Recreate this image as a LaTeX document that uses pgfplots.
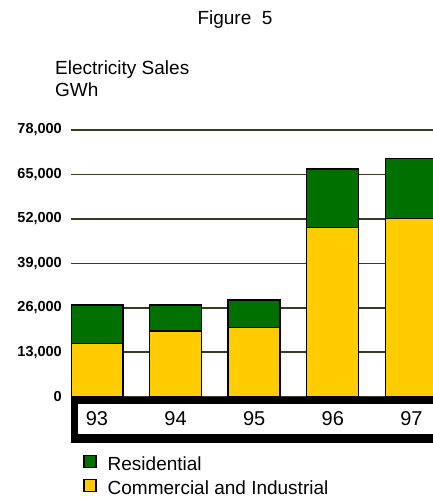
\documentclass[border=0pt]{standalone}
\usepackage{pgfplots}
\pgfplotsset{compat=1.18}
\usepackage{fontspec}
\setmainfont{Liberation Sans}

\definecolor{resgreen}{RGB}{0,112,0}
\definecolor{ciyellow}{RGB}{255,204,0}
\definecolor{gridtone}{RGB}{60,56,40}

\begin{document}
\begin{tikzpicture}[x=1bp,y=1bp]
\useasboundingbox (0,0) rectangle (433,498);
\clip (0,0) rectangle (433,498);

% titles
\node[anchor=base, font=\fontsize{19bp}{23bp}\selectfont] at (235,473) {Figure\ \ 5};
\node[anchor=base west, font=\fontsize{19bp}{23bp}\selectfont, inner sep=0pt] at (55,423) {Electricity Sales};
\node[anchor=base west, font=\fontsize{19bp}{23bp}\selectfont, inner sep=0pt] at (55,401) {GWh};

% base frame under the bars
\fill[black] (71,55) rectangle (450,101.3);
\fill[white] (78,64) rectangle (450,94);

\begin{axis}[
  at={(71bp,101.3bp)}, anchor=south west,
  scale only axis,
  width=369bp, height=266.7bp,
  xmin=-0.33, xmax=4.364,
  ymin=0, ymax=78000,
  axis line style={draw=none},
  ybar stacked,
  bar width=52bp,
  xtick={0,1,2,3,4},
  xticklabels={93,94,95,96,97},
  ytick={0,13000,26000,39000,52000,65000,78000},
  ymajorgrids,
  grid style={gridtone, line width=1.6bp},
  major tick length=0pt,
  /pgf/number format/assume math mode=true,
  /pgf/number format/1000 sep={,},
  scaled y ticks=false,
  xticklabel style={font=\fontsize{20bp}{22bp}\selectfont, anchor=base, yshift=-29bp},
  yticklabel style={font=\fontsize{14.5bp}{16bp}\selectfont\bfseries, anchor=east, inner sep=0pt, xshift=-9bp},
  reverse legend,
  legend style={draw=none, fill=none, at={(axis description cs:0,0)}, anchor=north west,
    xshift=12bp, yshift=-58bp, inner sep=0pt,
    font=\fontsize{19bp}{22bp}\selectfont,
    nodes={inner sep=0pt, anchor=west, text height=14bp, text depth=4bp},
    row sep=4bp, column sep=11bp},
  legend cell align=left,
  legend image code/.code={\draw[#1, draw=black, line width=1.5bp] (0bp,-2bp) rectangle (12bp,10bp);},
]
\addplot[fill=ciyellow, draw=black, line width=1.4bp] coordinates {(0,15600) (1,19200) (2,20200) (3,49500) (4,52200)};
\addplot[fill=resgreen, draw=black, line width=1.4bp] coordinates {(0,11250) (1,7650) (2,8100) (3,17100) (4,17400)};
\legend{Commercial and Industrial, Residential}
\end{axis}
\end{tikzpicture}
\end{document}
